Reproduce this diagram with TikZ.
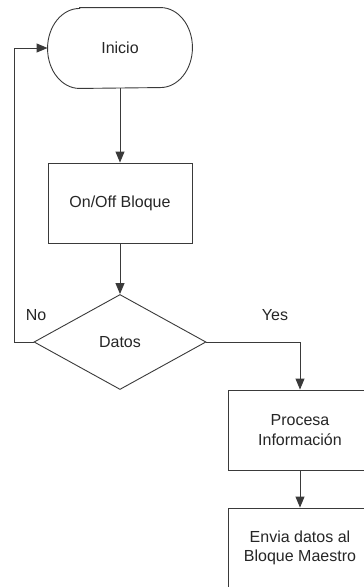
\documentclass[tikz,border=0pt]{standalone}
\usepackage{fontspec}
\setmainfont{Liberation Sans}
\usetikzlibrary{arrows.meta,shapes.geometric}
\definecolor{linec}{HTML}{3A3A3A}
\definecolor{textc}{HTML}{262626}
\tikzset{
  >={Triangle[length=11pt,width=9pt]},
  base/.style={draw=linec,line width=0.9pt,fill=white,inner sep=2pt,align=center,text=textc,font=\fontsize{16}{19.5}\selectfont},
  term/.style={base,draw=none,fill=none,minimum width=144pt,minimum height=80pt},
  proc/.style={base,minimum width=144pt,minimum height=80pt},
  dec/.style={base,diamond,minimum width=172pt,minimum height=95pt,inner sep=0pt},
  edge/.style={draw=linec,line width=0.9pt},
  flow/.style={->,draw=linec,line width=0.9pt},
  lbl/.style={text=textc,font=\fontsize{16}{19.5}\selectfont},
}
\begin{document}
\begin{tikzpicture}[x=1pt,y=-1pt]
  \clip (0,0) rectangle (364,587);
  % main column
  \node[term] (inicio) at (120,48) {Inicio};
  % terminal outline with elliptic ends
  \draw[edge] ([xshift=32pt]inicio.north west) -- ([xshift=-32pt]inicio.north east)
    arc[start angle=90,end angle=-90,x radius=32pt,y radius=40pt]
    -- ([xshift=32pt]inicio.south west)
    arc[start angle=270,end angle=90,x radius=32pt,y radius=40pt] -- cycle;
  \node[proc] (onoff) at (120,203) {On/Off Bloque};
  \node[dec] (datos) at (120,342) {Datos};
  % yes branch
  \node[proc] (procesa) at (300,430) {Procesa\\Información};
  \node[proc] (envia) at (300,548) {Envia datos al\\Bloque Maestro};
  \coordinate (back) at (14,342);
  \draw[flow] (inicio.south) -- (onoff.north);
  \draw[flow] (onoff.south) -- (datos.north);
  \draw[flow] (datos.west) -- (back) |- (inicio.west);
  \draw[flow] (datos.east) -| (procesa.north);
  \draw[flow] (procesa.south) -- (envia.north);
  \node[lbl] (no) at (36,315) {No};
  \node[lbl] (yes) at (275,315) {Yes};
\end{tikzpicture}
\end{document}
